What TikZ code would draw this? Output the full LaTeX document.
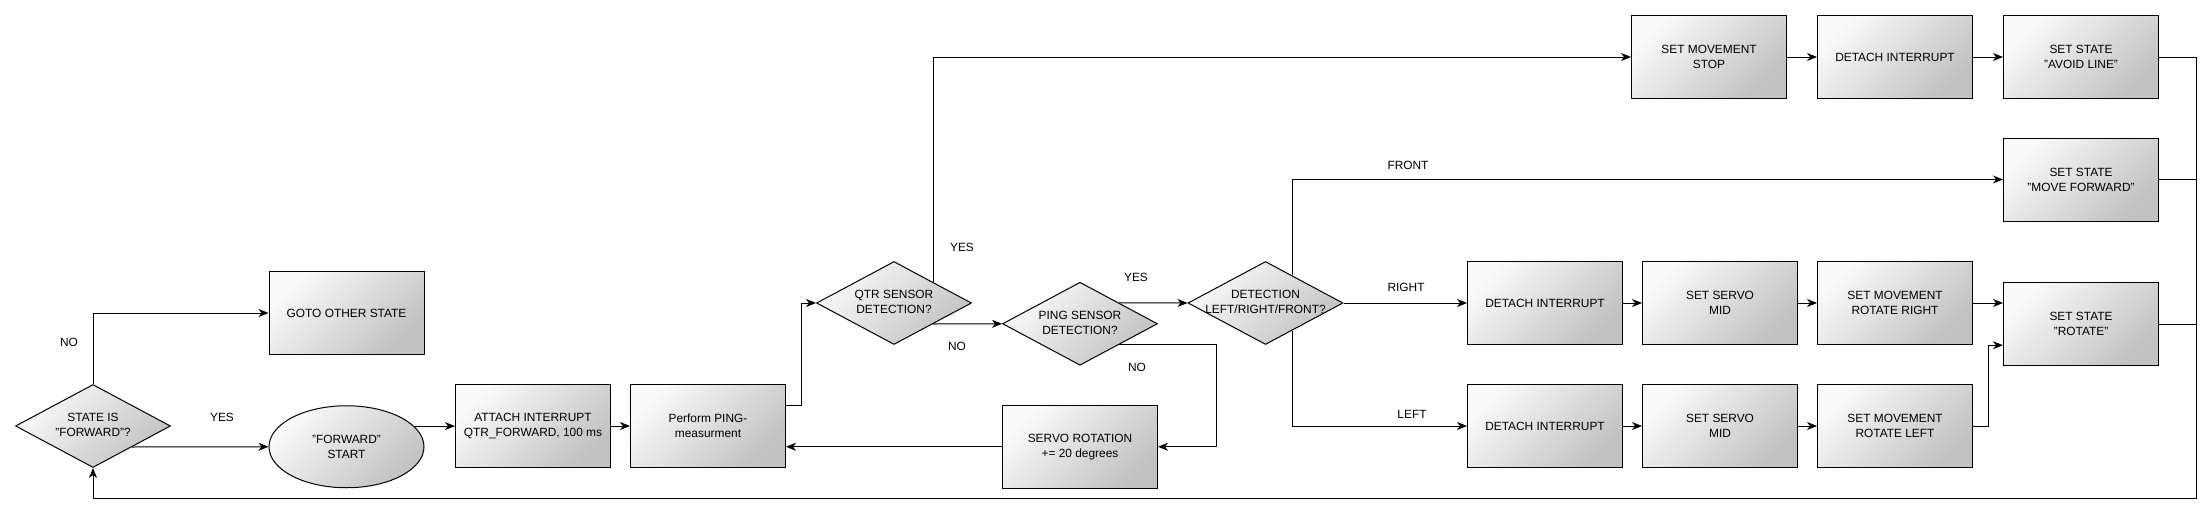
\documentclass[tikz,border=0pt]{standalone}
\usepackage{fontspec}
\setmainfont{Liberation Sans}
\usetikzlibrary{calc,arrows.meta,shapes.geometric}
\newcommand{\diatext}[1]{\makebox[0pt]{\begin{tabular}{@{}c@{}}#1\end{tabular}}}

\begin{document}
\begin{tikzpicture}[x=1pt,y=-1pt,line width=1pt,
    font=\fontsize{11.9}{15}\selectfont,
    >={Stealth[length=10pt,width=8pt,inset=3pt]},
    shadebox/.style={draw,top color=gray!4,bottom color=gray!48,shading angle=45},
    proc/.style={shadebox,rectangle,minimum width=155pt,minimum height=83pt,inner sep=2pt,align=center},
    decision/.style={shadebox,diamond,minimum width=155pt,minimum height=83pt,inner sep=0pt},
    startnode/.style={shadebox,ellipse,minimum width=155pt,minimum height=82pt,inner sep=2pt,align=center},
    lbl/.style={inner sep=0pt}]

\path[fill=white] (0,0) rectangle (2212,514);

%state check
\node[decision] (stateq) at (93,426) {\diatext{STATE IS\\"FORWARD"?}};
\node[proc] (goto) at (346.5,313) {GOTO OTHER STATE};
\node[startnode] (fstart) at (346.5,446.75) {"FORWARD"\\START};
\draw[->] (stateq.north) |- (goto.west);
\draw[->] ($(stateq.south)!.5!(stateq.east)$) -- (fstart.west);
\node[lbl] (noA) at (69,342) {NO};
\node[lbl] (yesA) at (222,417) {YES};

%forward loop
\node[proc] (attach) at (533,426) {ATTACH INTERRUPT\\QTR\_FORWARD, 100 ms};
\node[proc] (perform) at (708,426) {Perform PING-\\measurment};
\node[decision] (qtr) at (894,303) {\diatext{QTR SENSOR\\DETECTION?}};
\node[decision] (ping) at (1080,323.75) {\diatext{PING SENSOR\\DETECTION?}};
\node[proc] (servo) at (1080,446.75) {SERVO ROTATION\\+= 20 degrees};
\draw[->] (fstart.17.25) -- (fstart.17.25 -| attach.west);
\draw[->] (attach) -- (perform);
\draw[->] ($(perform.north east)!.25!(perform.south east)$) -- ++(15,0) |- (qtr.west);
\draw[->] ($(qtr.south)!.5!(qtr.east)$) -- (ping.west);
\draw[->] ($(ping.south)!.5!(ping.east)$) -- ++(97,0) |- (servo.east);
\draw[->] (servo.west) -- (servo.west -| perform.east);
\node[lbl] (yesB) at (962,247) {YES};
\node[lbl] (noB) at (957,346) {NO};
\node[lbl] (yesC) at (1136,277) {YES};
\node[lbl] (noC) at (1137,367) {NO};

%line detected
\node[proc] (stop) at (1709,57) {SET MOVEMENT\\STOP};
\node[proc] (detT) at (1895,57) {DETACH INTERRUPT};
\node[proc] (avoid) at (2081,57) {SET STATE\\"AVOID LINE"};
\draw[->] ($(qtr.north)!.5!(qtr.east)$) |- (stop.west);
\draw[->] (stop) -- (detT);
\draw[->] (detT) -- (avoid);

%obstacle detected
\node[decision] (detect) at (1265.5,303) {\diatext{DETECTION\\LEFT/RIGHT/FRONT?}};
\node[proc] (movefwd) at (2081,179.5) {SET STATE\\"MOVE FORWARD"};
\node[proc] (detR) at (1545,303) {DETACH INTERRUPT};
\node[proc] (servoR) at (1720,303) {SET SERVO\\MID};
\node[proc] (rotR) at (1895,303) {SET MOVEMENT\\ROTATE RIGHT};
\node[proc] (detL) at (1545,426) {DETACH INTERRUPT};
\node[proc] (servoL) at (1720,426) {SET SERVO\\MID};
\node[proc] (rotL) at (1895,426) {SET MOVEMENT\\ROTATE LEFT};
\node[proc] (rotst) at (2081,324.25) {SET STATE\\"ROTATE"};
\draw[->] ($(ping.north)!.5!(ping.east)$) -- (detect.west);
\draw[->] ($(detect.north)!.34!(detect.east)$) |- (movefwd.west);
\draw[->] (detect.east) -- (detR.west);
\draw[->] ($(detect.south)!.34!(detect.east)$) |- (detL.west);
\draw[->] (detR) -- (servoR);
\draw[->] (servoR) -- (rotR);
\draw[->] (detL) -- (servoL);
\draw[->] (servoL) -- (rotL);
\draw[->] (rotR.east) -- (rotR.east -| rotst.west);
\draw[->] (rotL.east) -- ++(15,0) |- ($(rotst.north west)!.75!(rotst.south west)$);
\node[lbl] (front) at (1408,165) {FRONT};
\node[lbl] (right) at (1406,287) {RIGHT};
\node[lbl] (left) at (1412,414) {LEFT};

%back to start
\coordinate (back) at (2196.4,498.3);
\draw[->] (avoid.east) -| (back) -| (stateq.south);
\draw (movefwd.east) -- (movefwd.east -| back);
\draw (rotst.east) -- (rotst.east -| back);

\end{tikzpicture}
\end{document}
